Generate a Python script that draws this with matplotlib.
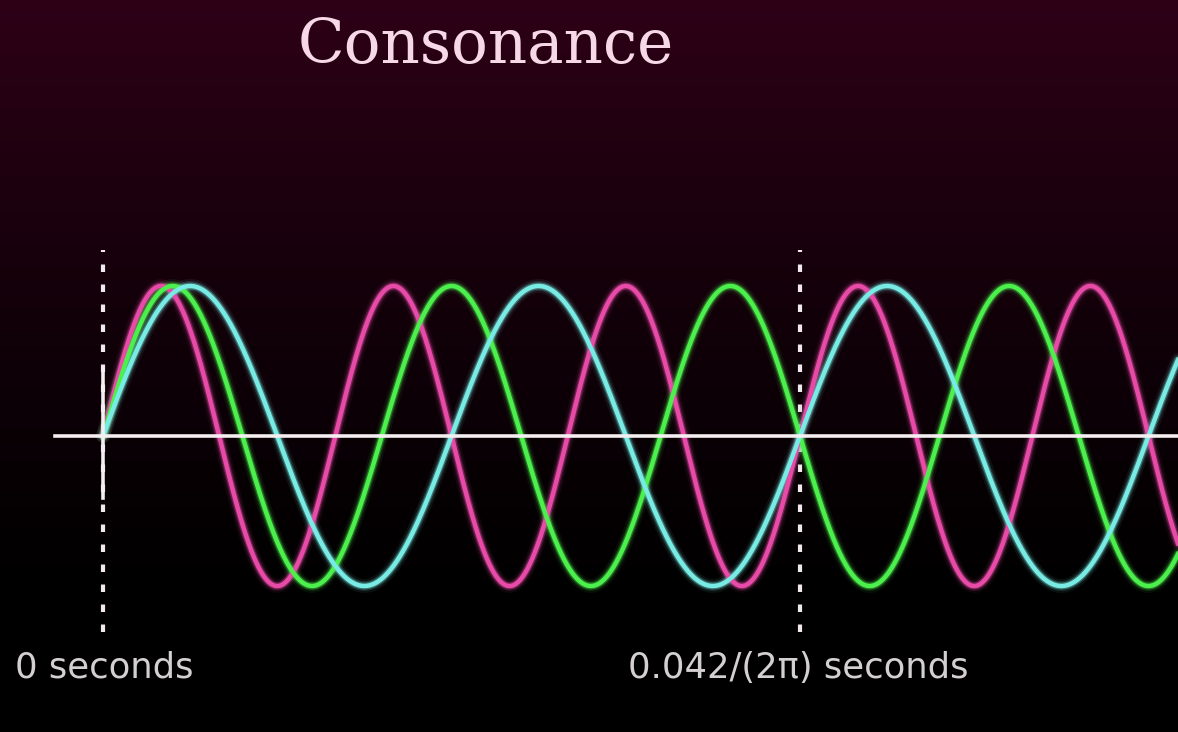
import numpy as np
import matplotlib
matplotlib.use("Agg")
import matplotlib.pyplot as plt

# --- data ---
title = "Consonance"
t_end = 0.042 / (2 * np.pi)            # second marker, seconds
cycles_in_window = [3.0, 2.5, 2.0]     # pink, green, cyan (6:5:4 chord)
wave_colors = ["#e84aa8", "#4cf04c", "#78ece4"]
marker_times = [0.0, t_end]
marker_labels = ["0 seconds", "0.042/(2\u03c0) seconds"]

W, H = 1178, 732
x0_px, x1_px = 103, 800     # pixel positions of t=0 and t=t_end
y0_px, amp_px = 436, 150    # zero line and amplitude in pixels

fig = plt.figure(figsize=(W / 100, H / 100), dpi=100)

# background gradient: dark maroon at top fading to black
bg = fig.add_axes([0, 0, 1, 1])
g = np.linspace(0, 1, 256)[:, None]
fade = np.clip(1 - g / 0.85, 0, 1) ** 1.3
top = np.array([0x2e, 0x01, 0x17]) / 255
img = fade[:, :, None] * top[None, None, :]
img = np.repeat(img, 2, axis=1)
bg.imshow(img, aspect="auto", extent=[0, 1, 0, 1], origin="upper")
bg.set_axis_off()

ax = fig.add_axes([0, 0, 1, 1])
ax.set_facecolor("none")
sx = t_end / (x1_px - x0_px)
ax.set_xlim(-x0_px * sx, (W - x0_px) * sx)
ax.set_ylim(-(H - y0_px) / amp_px, y0_px / amp_px)
ax.set_axis_off()

t = np.linspace(0, (W - x0_px) * sx, 3000)
for cyc, col in zip(cycles_in_window, wave_colors):
    y = np.sin(2 * np.pi * cyc / t_end * t)
    for lw, a in [(10, 0.07), (7, 0.15), (5, 0.35)]:
        ax.plot(t, y, color=col, lw=lw, alpha=a, solid_capstyle="round", zorder=2)
    ax.plot(t, y, color=col, lw=3.2, zorder=3)

# axis line
ax.plot([(55 - x0_px) * sx, (W - x0_px) * sx], [0, 0], color="#f4eef0", lw=2.6, zorder=4)

# dotted time markers
ytop = (y0_px - 250) / amp_px
ybot = -(632 - y0_px) / amp_px
for tm in marker_times:
    ax.plot([tm, tm], [ybot, ytop], color="#f0e8ec", lw=3.0,
            dashes=(1.8, 3.0), zorder=1)
ax.plot([0, 0], [-(498 - y0_px) / amp_px, (y0_px - 368) / amp_px],
        color="#f4eef0", lw=2.6, zorder=4)

# labels
lab_y = -(668 - y0_px) / amp_px
lab_font = ["DejaVu Sans"]
ax.text((15 - x0_px) * sx, lab_y, marker_labels[0], color="#d4d0d2",
        fontsize=25.5, family=lab_font, va="center", ha="left")
ax.text((628 - x0_px) * sx, lab_y, marker_labels[1], color="#d4d0d2",
        fontsize=25.5, family=lab_font, va="center", ha="left")

fig.text(298 / W, 1 - 63 / H, title, color="#f6d8e6", fontsize=44,
         family="DejaVu Serif", ha="left", va="baseline")

fig.savefig("out.png", dpi=100, facecolor="black")
